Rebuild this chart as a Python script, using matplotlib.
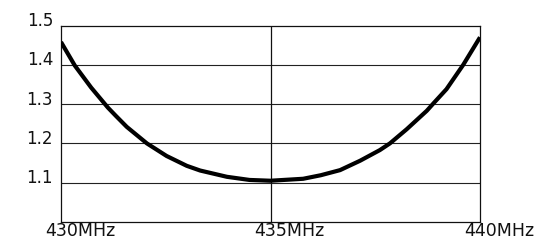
import matplotlib
matplotlib.use('Agg')
import matplotlib.pyplot as plt

# SWR curve
freq = [430.0, 430.33, 430.72, 431.12, 431.31, 431.57, 432.05, 432.52, 433.0,
        433.32, 433.96, 434.5, 435.0, 435.78, 436.2, 436.66, 437.14, 437.61,
        437.85, 438.25, 438.73, 438.89, 439.2, 439.6, 439.92, 440.0]
swr = [1.458, 1.398, 1.342, 1.291, 1.270, 1.242, 1.20, 1.168, 1.143,
       1.131, 1.115, 1.107, 1.105, 1.110, 1.119, 1.132, 1.156, 1.183,
       1.20, 1.236, 1.283, 1.302, 1.338, 1.40, 1.456, 1.47]

ytick_vals = [1.1, 1.2, 1.3, 1.4, 1.5]
ytick_labels = ['1.1', '1.2', '1.3', '1.4', '1.5']
xtick_vals = [430, 435, 440]
xtick_labels = ['430MHz', '435MHz', '440MHz']

plt.rcParams['font.family'] = ['DejaVu Sans']

fig = plt.figure(figsize=(5.51, 2.48), dpi=100)
ax = fig.add_axes([61/551, 1-222/248, (480-61)/551, (222-25.5)/248])
ax.set_xlim(430, 440)
ax.set_ylim(1.0, 1.5)

# grid
for v in ytick_vals[:-1]:
    ax.axhline(v, color='#222222', lw=0.8, zorder=1)
ax.axvline(435, color='#111111', lw=0.9, zorder=1)

ax.plot(freq, swr, color='black', lw=3.0, solid_joinstyle='round',
        solid_capstyle='butt', zorder=3)

for s in ax.spines.values():
    s.set_linewidth(0.9)
    s.set_color('#111111')
ax.set_xticks([])
ax.set_yticks([])

ytr = ax.get_yaxis_transform()
for v, lab in zip(ytick_vals, ytick_labels):
    ax.text(-0.019, v + 0.0115, lab, transform=ytr, ha='right', va='center',
            fontsize=12, color='#111111')

xtr = ax.get_xaxis_transform()
for v, lab in zip(xtick_vals, xtick_labels):
    ax.text(v - 0.38, -0.046, lab, transform=xtr, ha='left', va='center',
            fontsize=12.5, color='#111111')

fig.savefig('out.png', dpi=100)
